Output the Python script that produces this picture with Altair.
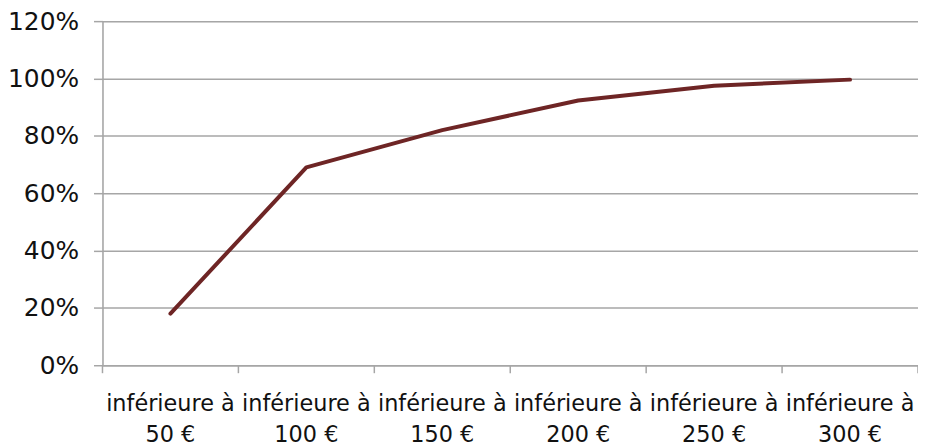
import altair as alt
import pandas as pd

categories = [
    "inférieure à 50 €",
    "inférieure à 100 €",
    "inférieure à 150 €",
    "inférieure à 200 €",
    "inférieure à 250 €",
    "inférieure à 300 €",
]
values = [0.18, 0.69, 0.82, 0.923, 0.975, 0.996]
y_ticks = [0, 0.2, 0.4, 0.6, 0.8, 1.0, 1.2]

df = pd.DataFrame({"cat": categories, "val": values})

W, H = 820, 346
FONT = "DejaVu Sans"
GRID = "#a6a6a6"
LINE = "#6e2525"

x_scale = alt.Scale(type="band", domain=categories, paddingInner=0, paddingOuter=0)
x_axis = alt.Axis(
    title=None,
    labelAngle=0,
    ticks=False,
    domain=True,
    domainColor=GRID,
    domainWidth=1.5,
    grid=False,
    labelExpr="[substring(datum.label, 0, 12), substring(datum.label, 13)]",
    labelFont=FONT,
    labelFontSize=22.5,
    labelColor="#111111",
    labelLineHeight=31,
    labelPadding=28,
    labelBaseline="top",
)

base = alt.Chart(df)

line = base.mark_line(
    color=LINE, strokeWidth=4, strokeCap="round", strokeJoin="round"
).encode(
    x=alt.X("cat:N", scale=x_scale, sort=categories, bandPosition=0.5, axis=x_axis),
    y=alt.Y(
        "val:Q",
        scale=alt.Scale(domain=[0, 1.2], nice=False, zero=True),
        axis=alt.Axis(
            title=None,
            values=y_ticks,
            format=".0%",
            grid=True,
            gridColor=GRID,
            gridWidth=1.5,
            domain=True,
            domainColor=GRID,
            domainWidth=1.5,
            ticks=True,
            tickColor=GRID,
            tickSize=9,
            tickWidth=1.5,
            labelFont=FONT,
            labelFontSize=25,
            labelColor="#111111",
            labelPadding=15,
        ),
    ),
)

ticks_start = base.mark_rule(color=GRID, strokeWidth=1.5).encode(
    x=alt.X("cat:N", scale=x_scale, sort=categories, bandPosition=0, axis=x_axis),
    y=alt.value(H),
    y2=alt.value(H + 8),
)

ticks_end = base.transform_filter(
    alt.datum.cat == categories[-1]
).mark_rule(color=GRID, strokeWidth=1.5).encode(
    x=alt.X("cat:N", scale=x_scale, sort=categories, bandPosition=1, axis=x_axis),
    y=alt.value(H),
    y2=alt.value(H + 8),
)

chart = (
    alt.layer(ticks_start, ticks_end, line)
    .properties(
        width=W,
        height=H,
        autosize=alt.AutoSizeParams(type="none"),
        padding={"left": 95, "top": 12, "right": 0, "bottom": 81},
    )
    .configure_view(stroke=None)
    .configure(background="white")
)

chart.save("out.html", embed_options={"renderer": "svg", "actions": False})
